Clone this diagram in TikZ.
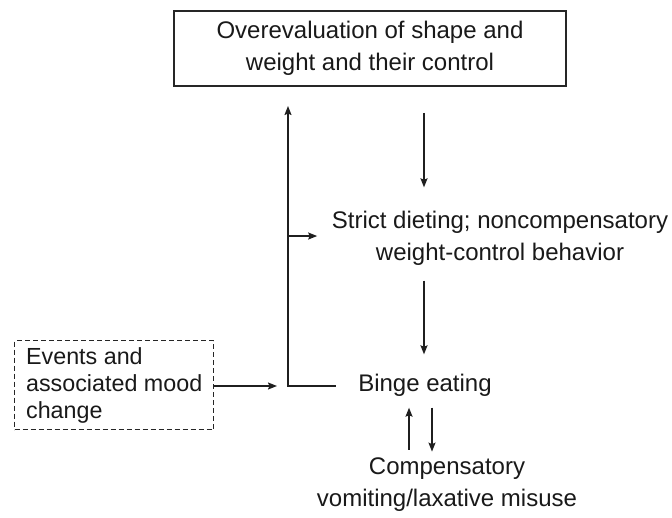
\documentclass[tikz,border=0pt]{standalone}
\usepackage{fontspec}
\setmainfont{Liberation Sans}
\usetikzlibrary{arrows.meta}
\begin{document}
\begin{tikzpicture}[x=1pt,y=-1pt,
  line width=1.5pt,
  every node/.style={inner sep=0pt, text=black!90},
  lbl/.style={align=center, font=\fontsize{24}{32}\selectfont},
  boxed/.style={draw=black!85, line width=1.6pt},
  arr/.style={draw=black!88, -{Stealth[length=9pt,width=7pt,inset=1.5pt]}}]
\useasboundingbox (0,0) rectangle (672,517);
% nodes
\node[lbl, boxed, minimum width=392pt, minimum height=75pt] (top) at (370,48.5)
  {Overevaluation of shape and\\weight and their control};
\node[lbl] (diet) at (500,238) {Strict dieting; noncompensatory\\weight-control behavior};
\node[lbl] (binge) at (425,385.75) {Binge eating};
\node[lbl] (comp) at (447,484.75) {Compensatory\\vomiting/laxative misuse};
\node[draw=black!85, line width=1.4pt, dash pattern=on 5pt off 3pt,
  align=left, font=\fontsize{23.3}{27}\selectfont,
  minimum width=199pt, minimum height=89pt,
  anchor=north west] (events) at (14,340)
  {Events and\\associated mood\\change\rule[-5pt]{0pt}{5pt}};
% coordinates
\coordinate (j) at (288,386);
\coordinate (jt) at (288,106);
\coordinate (br) at (288,236);
\coordinate (ax) at (424,0);
\coordinate (up) at (409,0);
\coordinate (dn) at (432,0);
% connectors
\draw[arr] ([xshift=-22pt]binge.west |- j) -- (j) -- (jt);
\draw[arr] (events.east |- j) -- ([xshift=-11pt]j);
\draw[arr, shorten >=14pt] (br) -- (br -| diet.west);
\draw[arr, shorten <=26pt, shorten >=22.75pt] (top.south -| ax) -- (diet.north -| ax);
\draw[arr, shorten <=14.75pt, shorten >=19.5pt] (diet.south -| ax) -- (binge.north -| ax);
\draw[arr, shorten <=7.5pt, shorten >=10pt] (comp.north -| up) -- (binge.south -| up);
\draw[arr, shorten <=10pt, shorten >=5.5pt] (binge.south -| dn) -- (comp.north -| dn);
\end{tikzpicture}
\end{document}
